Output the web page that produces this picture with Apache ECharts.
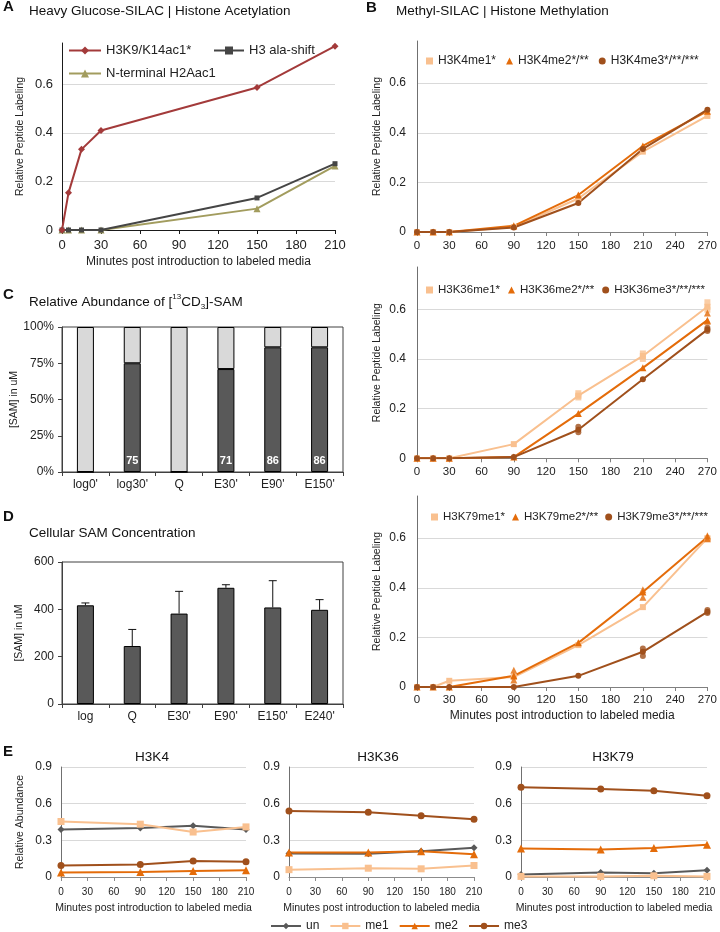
<!DOCTYPE html>
<html><head><meta charset="utf-8">
<script src="https://cdn.jsdelivr.net/npm/echarts/dist/echarts.min.js"></script>
<style>html,body{margin:0;padding:0;background:#fff}#c{width:720px;height:932px}</style>
</head><body><div id="c"></div>
<script>
// ---------- DATA ----------
// Panel A
const aX = [0, 5, 15, 30, 150, 210];
const aH3K9 = [0, 0.153, 0.332, 0.41, 0.587, 0.757];
const aAla = [0, 0, 0, 0, 0.132, 0.273];
const aH2A = [0, 0, 0, 0, 0.088, 0.264];

// Panel B
const bX = [0, 15, 30, 90, 150, 210, 270];
const k4me1 = [0, 0, 0, 0.02, 0.135, 0.324, 0.468];
const k4me2 = [0, 0, 0, 0.025, 0.149, 0.347, 0.487];
const k4me3 = [0, 0, 0, 0.018, 0.117, 0.335, 0.493];
const k36me1 = [0, 0, 0, 0.057, 0.252, 0.412, 0.61];
const k36me2 = [0, 0, 0, 0.005, 0.18, 0.364, 0.556];
const k36me3 = [0, 0, 0, 0.005, 0.115, 0.318, 0.518];
const k79me1 = [0, 0, 0.025, 0.04, 0.169, 0.322, 0.6];
const k79me2 = [0, 0, 0, 0.045, 0.178, 0.383, 0.605];
const k79me3 = [0, 0, 0, 0, 0.045, 0.142, 0.303];
// replicate points (x, value)
const k36me1Rep = [[150, 0.245], [150, 0.262], [210, 0.40], [210, 0.422], [270, 0.598], [270, 0.628]];
const k36me2Rep = [[270, 0.585], [270, 0.552]];
const k36me3Rep = [[150, 0.105], [150, 0.127], [270, 0.512], [270, 0.525]];
const k79me1Rep = [[270, 0.596]];
const k79me2Rep = [[90, 0.068], [90, 0.028], [210, 0.392], [210, 0.362], [270, 0.61], [270, 0.598]];
const k79me3Rep = [[210, 0.155], [210, 0.125], [270, 0.298], [270, 0.31]];

// Panel C
const cCats = ["log0'", "log30'", "Q", "E30'", "E90'", "E150'"];
const cLabeled = [0, 75, 0, 71, 86, 86];
const cUnlabeled = [100, 25, 100, 29, 14, 14];

// Panel D
const dCats = ["log", "Q", "E30'", "E90'", "E150'", "E240'"];
const dMean = [417, 245, 382, 491, 408, 398];
const dSd = [10, 70, 94, 13, 113, 43];

// Panel E
const eX = [0, 90, 150, 210];
const eK4un = [0.388, 0.40, 0.419, 0.388];
const eK4me1 = [0.454, 0.432, 0.368, 0.41];
const eK4me2 = [0.037, 0.04, 0.05, 0.055];
const eK4me3 = [0.094, 0.102, 0.13, 0.125];
const eK36un = [0.193, 0.19, 0.21, 0.239];
const eK36me1 = [0.06, 0.072, 0.067, 0.094];
const eK36me2 = [0.2, 0.2, 0.21, 0.187];
const eK36me3 = [0.54, 0.53, 0.502, 0.472];
const eK79un = [0.02, 0.037, 0.031, 0.056];
const eK79me1 = [0.005, 0.005, 0.01, 0.005];
const eK79me2 = [0.234, 0.226, 0.238, 0.264];
const eK79me3 = [0.735, 0.72, 0.705, 0.664];

// ---------- STYLE ----------
const F = '"Liberation Sans", Arial, sans-serif';
const C_ME1 = '#F9C08F', C_ME2 = '#E46C0A', C_ME3 = '#A0501C', C_UN = '#595959';
const C_RED = '#A33A3A', C_GRAY = '#454545', C_OLIVE = '#A29C5E';
const GRID_LINE = '#D9D9D9';

function zip(xs, ys) { return xs.map((x, i) => [x, ys[i]]); }
function fmt02(v) {
  const r = v / 0.2;
  if (Math.abs(r - Math.round(r)) > 1e-6) return '';
  return v === 0 ? '0' : v.toFixed(1);
}

const grids = [
  { left: 62, top: 43, width: 273, height: 187 },        // 0 A
  { left: 417, top: 41, width: 292, height: 191 },       // 1 B K4
  { left: 417, top: 267, width: 292, height: 191.3 },    // 2 B K36
  { left: 417, top: 496, width: 292, height: 191 },      // 3 B K79
  { left: 62, top: 327, width: 281, height: 145, show: true, borderColor: '#404040', borderWidth: 1 }, // 4 C
  { left: 62, top: 562, width: 281, height: 142, show: true, borderColor: '#404040', borderWidth: 1 }, // 5 D
  { left: 61, top: 767, width: 185, height: 110 },       // 6 E K4
  { left: 289, top: 767, width: 185, height: 110 },      // 7 E K36
  { left: 521, top: 767, width: 186, height: 110 }       // 8 E K79
];

function timeX(gi, max, opts) {
  return Object.assign({
    type: 'value', gridIndex: gi, min: 0, max: max, interval: 30,
    axisLine: { show: true, lineStyle: { color: opts.axisColor, width: 1 } },
    axisTick: { show: true, length: 4, lineStyle: { color: opts.axisColor } },
    axisLabel: { fontFamily: F, fontSize: opts.fs, color: '#222', margin: opts.margin },
    splitLine: { show: false },
    nameLocation: 'middle', nameGap: opts.nameGap || 24,
    nameTextStyle: { fontFamily: F, fontSize: opts.nameFs || 12, color: '#222' }
  }, opts.name ? { name: opts.name } : {});
}

function fracY(gi, opts) {
  return Object.assign({
    type: 'value', gridIndex: gi, min: 0, max: opts.max, interval: opts.interval,
    axisLine: { show: true, lineStyle: { color: opts.axisColor, width: 1 } },
    axisTick: { show: false },
    axisLabel: { fontFamily: F, fontSize: opts.fs, color: '#222', margin: opts.margin, formatter: opts.formatter, showMaxLabel: opts.showMax !== false },
    splitLine: { show: true, showMaxLine: opts.showMax !== false, lineStyle: { color: GRID_LINE, width: 1 } },
    nameLocation: 'middle', nameGap: opts.nameGap || 34,
    nameTextStyle: { fontFamily: F, fontSize: 10.5, color: '#222' }
  }, opts.name ? { name: opts.name } : {});
}

const MIN_TXT = 'Minutes post introduction to labeled media';

const xAxes = [
  timeX(0, 210, { axisColor: '#1a1a1a', fs: 13, margin: 9, name: MIN_TXT, nameGap: 26, nameFs: 12 }),
  timeX(1, 270, { axisColor: '#808080', fs: 11.5, margin: 8 }),
  timeX(2, 270, { axisColor: '#808080', fs: 11.5, margin: 8 }),
  timeX(3, 270, { axisColor: '#808080', fs: 11.5, margin: 7, name: MIN_TXT, nameGap: 23, nameFs: 12 }),
  {
    type: 'category', gridIndex: 4, data: cCats,
    axisLine: { show: true, lineStyle: { color: '#404040' } },
    axisTick: { show: true, length: 4, lineStyle: { color: '#404040' } },
    axisLabel: { fontFamily: F, fontSize: 12, color: '#222', margin: 7 }
  },
  {
    type: 'category', gridIndex: 5, data: dCats,
    axisLine: { show: true, lineStyle: { color: '#404040' } },
    axisTick: { show: true, length: 4, lineStyle: { color: '#404040' } },
    axisLabel: { fontFamily: F, fontSize: 12, color: '#222', margin: 7 }
  },
  timeX(6, 210, { axisColor: '#8c8c8c', fs: 10, margin: 10, name: MIN_TXT, nameGap: 26, nameFs: 10.5 }),
  timeX(7, 210, { axisColor: '#8c8c8c', fs: 10, margin: 10, name: MIN_TXT, nameGap: 26, nameFs: 10.5 }),
  timeX(8, 210, { axisColor: '#8c8c8c', fs: 10, margin: 10, name: MIN_TXT, nameGap: 26, nameFs: 10.5 })
];

const fmtE = v => v === 0 ? '0' : v.toFixed(1);
const yAxes = [
  fracY(0, { max: 0.77, interval: 0.2, axisColor: '#1a1a1a', fs: 13, margin: 9, formatter: fmt02, showMax: false, name: 'Relative Peptide Labeling', nameGap: 36 }),
  fracY(1, { max: 0.77, interval: 0.2, axisColor: '#707070', fs: 12, margin: 11, formatter: fmt02, showMax: false, name: 'Relative Peptide Labeling', nameGap: 34 }),
  fracY(2, { max: 0.77, interval: 0.2, axisColor: '#707070', fs: 12, margin: 11, formatter: fmt02, showMax: false, name: 'Relative Peptide Labeling', nameGap: 34 }),
  fracY(3, { max: 0.77, interval: 0.2, axisColor: '#707070', fs: 12, margin: 11, formatter: fmt02, showMax: false, name: 'Relative Peptide Labeling', nameGap: 34 }),
  {
    type: 'value', gridIndex: 4, min: 0, max: 100, interval: 25,
    axisLine: { show: true, lineStyle: { color: '#404040' } },
    axisTick: { show: true, length: 4, lineStyle: { color: '#404040' } },
    axisLabel: { fontFamily: F, fontSize: 12, color: '#222', margin: 8, formatter: '{value}%' },
    splitLine: { show: false },
    name: '[SAM] in uM', nameLocation: 'middle', nameGap: 37,
    nameTextStyle: { fontFamily: F, fontSize: 10.5, color: '#222' }
  },
  {
    type: 'value', gridIndex: 5, min: 0, max: 600, interval: 200,
    axisLine: { show: true, lineStyle: { color: '#404040' } },
    axisTick: { show: true, length: 4, lineStyle: { color: '#404040' } },
    axisLabel: { fontFamily: F, fontSize: 12, color: '#222', margin: 8 },
    splitLine: { show: false },
    name: '[SAM] in uM', nameLocation: 'middle', nameGap: 37,
    nameTextStyle: { fontFamily: F, fontSize: 10.5, color: '#222' }
  },
  fracY(6, { max: 0.9, interval: 0.3, axisColor: '#707070', fs: 12, margin: 9, formatter: fmtE, name: 'Relative Abundance', nameGap: 35 }),
  fracY(7, { max: 0.9, interval: 0.3, axisColor: '#707070', fs: 12, margin: 9, formatter: fmtE }),
  fracY(8, { max: 0.9, interval: 0.3, axisColor: '#707070', fs: 12, margin: 9, formatter: fmtE })
];

function line(name, xs, ys, gi, color, symbol, size, z) {
  return {
    type: 'line', name, xAxisIndex: gi, yAxisIndex: gi, data: zip(xs, ys),
    symbol, symbolSize: size, showSymbol: true, color,
    lineStyle: { width: 2, color }, itemStyle: { color }, z: z || 2
  };
}
function reps(name, pts, gi, color, symbol, size) {
  return {
    type: 'scatter', name, xAxisIndex: gi, yAxisIndex: gi, data: pts,
    symbol, symbolSize: size, itemStyle: { color }, z: 3
  };
}

const series = [
  // A
  line('N-terminal H2Aac1', aX, aH2A, 0, C_OLIVE, 'triangle', 7),
  line('H3 ala-shift', aX, aAla, 0, C_GRAY, 'rect', 5),
  line('H3K9/K14ac1*', aX, aH3K9, 0, C_RED, 'diamond', 7),
  // B K4
  line('H3K4me1*', bX, k4me1, 1, C_ME1, 'rect', 6),
  line('H3K4me2*/**', bX, k4me2, 1, C_ME2, 'triangle', 7),
  line('H3K4me3*/**/***', bX, k4me3, 1, C_ME3, 'circle', 6),
  // B K36
  line('H3K36me1*', bX, k36me1, 2, C_ME1, 'rect', 6),
  line('H3K36me2*/**', bX, k36me2, 2, C_ME2, 'triangle', 7),
  line('H3K36me3*/**/***', bX, k36me3, 2, C_ME3, 'circle', 6),
  reps('k36me1 rep', k36me1Rep, 2, C_ME1, 'rect', 6),
  reps('k36me2 rep', k36me2Rep, 2, C_ME2, 'triangle', 7),
  reps('k36me3 rep', k36me3Rep, 2, C_ME3, 'circle', 6),
  // B K79
  line('H3K79me1*', bX, k79me1, 3, C_ME1, 'rect', 6),
  line('H3K79me2*/**', bX, k79me2, 3, C_ME2, 'triangle', 7),
  line('H3K79me3*/**/***', bX, k79me3, 3, C_ME3, 'circle', 6),
  reps('k79me1 rep', k79me1Rep, 3, C_ME1, 'rect', 6),
  reps('k79me2 rep', k79me2Rep, 3, C_ME2, 'triangle', 7),
  reps('k79me3 rep', k79me3Rep, 3, C_ME3, 'circle', 6),
  // C
  {
    type: 'bar', name: 'labeled', xAxisIndex: 4, yAxisIndex: 4, stack: 'c', data: cLabeled, barWidth: 17,
    itemStyle: { color: '#595959', borderColor: '#000', borderWidth: 1 },
    label: {
      show: true, position: 'insideBottom', distance: 6, color: '#fff', fontWeight: 'bold', fontSize: 11, fontFamily: F,
      formatter: p => p.value > 0 ? String(p.value) : ''
    }
  },
  {
    type: 'bar', name: 'unlabeled', xAxisIndex: 4, yAxisIndex: 4, stack: 'c', data: cUnlabeled, barWidth: 17,
    itemStyle: { color: '#D9D9D9', borderColor: '#000', borderWidth: 1 }
  },
  // D
  {
    type: 'bar', name: 'SAM', xAxisIndex: 5, yAxisIndex: 5, data: dMean, barWidth: 17,
    itemStyle: { color: '#595959', borderColor: '#000', borderWidth: 1 }
  },
  {
    type: 'custom', name: 'SAM err', xAxisIndex: 5, yAxisIndex: 5, z: 4,
    data: dMean.map((m, i) => [i, m, m + dSd[i]]),
    encode: { x: 0, y: [1, 2] },
    renderItem: function (params, api) {
      const x = api.value(0);
      const p0 = api.coord([x, api.value(1)]);
      const p1 = api.coord([x, api.value(2)]);
      const w = 4;
      return {
        type: 'group', children: [
          { type: 'line', shape: { x1: p0[0], y1: p0[1], x2: p1[0], y2: p1[1] }, style: { stroke: '#111', lineWidth: 1 } },
          { type: 'line', shape: { x1: p1[0] - w, y1: p1[1], x2: p1[0] + w, y2: p1[1] }, style: { stroke: '#111', lineWidth: 1 } }
        ]
      };
    }
  },
  // E K4
  line('un', eX, eK4un, 6, C_UN, 'diamond', 7),
  line('me1', eX, eK4me1, 6, C_ME1, 'rect', 7),
  line('me2', eX, eK4me2, 6, C_ME2, 'triangle', 8),
  line('me3', eX, eK4me3, 6, C_ME3, 'circle', 7),
  // E K36
  line('un', eX, eK36un, 7, C_UN, 'diamond', 7),
  line('me1', eX, eK36me1, 7, C_ME1, 'rect', 7),
  line('me2', eX, eK36me2, 7, C_ME2, 'triangle', 8),
  line('me3', eX, eK36me3, 7, C_ME3, 'circle', 7),
  // E K79
  line('un', eX, eK79un, 8, C_UN, 'diamond', 7),
  line('me1', eX, eK79me1, 8, C_ME1, 'rect', 7),
  line('me2', eX, eK79me2, 8, C_ME2, 'triangle', 8),
  line('me3', eX, eK79me3, 8, C_ME3, 'circle', 7)
];

const legTxt = (fs) => ({ fontFamily: F, fontSize: fs, color: '#222' });
const legends = [
  { data: ['H3K9/K14ac1*'], left: 68, top: 44, padding: 0, itemWidth: 32, itemHeight: 10, textStyle: legTxt(13), selectedMode: false },
  { data: ['H3 ala-shift'], left: 213, top: 44, padding: 0, itemWidth: 30, itemHeight: 10, textStyle: legTxt(13), selectedMode: false },
  { data: ['N-terminal H2Aac1'], left: 68, top: 67, padding: 0, itemWidth: 32, itemHeight: 10, textStyle: legTxt(13), selectedMode: false },
  {
    data: [{ name: 'H3K4me1*', icon: 'rect' }, { name: 'H3K4me2*/**', icon: 'triangle' }, { name: 'H3K4me3*/**/***', icon: 'circle' }],
    left: 426, top: 55, padding: 0, width: 294, itemWidth: 7, itemHeight: 7, itemGap: 10, textStyle: legTxt(12), selectedMode: false
  },
  {
    data: [{ name: 'H3K36me1*', icon: 'rect' }, { name: 'H3K36me2*/**', icon: 'triangle' }, { name: 'H3K36me3*/**/***', icon: 'circle' }],
    left: 426, top: 284, padding: 0, width: 294, itemWidth: 7, itemHeight: 7, itemGap: 8, textStyle: legTxt(11.5), selectedMode: false
  },
  {
    data: [{ name: 'H3K79me1*', icon: 'rect' }, { name: 'H3K79me2*/**', icon: 'triangle' }, { name: 'H3K79me3*/**/***', icon: 'circle' }],
    left: 431, top: 511, padding: 0, width: 289, itemWidth: 7, itemHeight: 7, itemGap: 7, textStyle: legTxt(11.5), selectedMode: false
  },
  { data: ['un', 'me1', 'me2', 'me3'], left: 270, top: 920, padding: 0, itemWidth: 30, itemHeight: 8, itemGap: 10, textStyle: legTxt(12), selectedMode: false }
];

function txt(x, y, text, size, bold, align) {
  return {
    type: 'text', x, y, silent: true,
    style: { text, fontFamily: F, fontSize: size, fontWeight: bold ? 'bold' : 'normal', fill: '#111', align: align || 'left', verticalAlign: 'middle' }
  };
}

const graphics = [
  txt(3, 7, 'A', 15, true),
  txt(29, 11, 'Heavy Glucose-SILAC | Histone Acetylation', 13.5),
  txt(366, 8, 'B', 15, true),
  txt(396, 11, 'Methyl-SILAC | Histone Methylation', 13.5),
  txt(3, 295, 'C', 15, true),
  {
    type: 'text', x: 29, y: 302, silent: true,
    style: {
      text: 'Relative Abundance of [{sup|13}CD{sub|3}]-SAM', fontFamily: F, fontSize: 13.5, fill: '#111',
      verticalAlign: 'middle', lineHeight: 18,
      rich: {
        sup: { fontFamily: F, fontSize: 8, verticalAlign: 'top', lineHeight: 18, fill: '#111' },
        sub: { fontFamily: F, fontSize: 8, verticalAlign: 'bottom', lineHeight: 14, fill: '#111' }
      }
    }
  },
  txt(3, 517, 'D', 15, true),
  txt(29, 533, 'Cellular SAM Concentration', 13.5),
  txt(3, 752, 'E', 15, true),
  txt(152, 757, 'H3K4', 13.5, false, 'center'),
  txt(378, 757, 'H3K36', 13.5, false, 'center'),
  txt(613, 757, 'H3K79', 13.5, false, 'center')
];

const chart = echarts.init(document.getElementById('c'), null, { renderer: 'canvas', width: 720, height: 932 });
chart.setOption({
  animation: false,
  backgroundColor: '#fff',
  textStyle: { fontFamily: F },
  grid: grids,
  xAxis: xAxes,
  yAxis: yAxes,
  legend: legends,
  series: series,
  graphic: graphics
});
</script></body></html>
